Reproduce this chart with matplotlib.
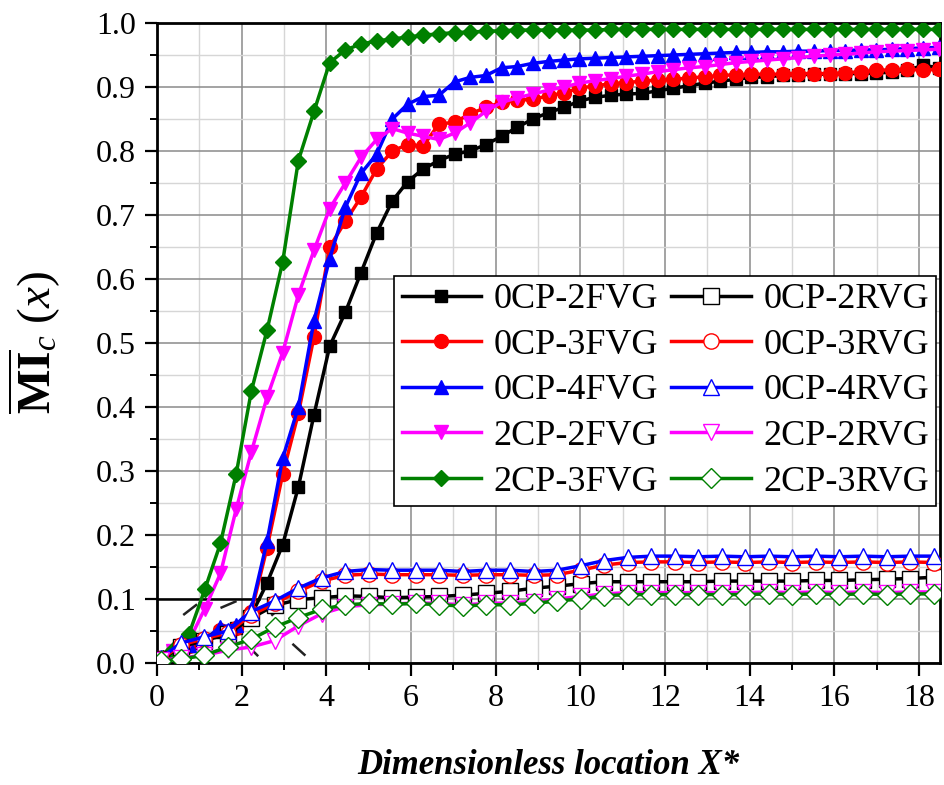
import matplotlib
matplotlib.use("Agg")
import matplotlib.pyplot as plt
from matplotlib.ticker import MultipleLocator

# ---- data ----
xF = [0.15, 0.39, 0.76, 1.13, 1.50, 1.87, 2.23, 2.60, 2.97, 3.34,
      3.71, 4.08, 4.45, 4.82, 5.19, 5.56, 5.92, 6.29, 6.66, 7.03,
      7.40, 7.77, 8.14, 8.51, 8.88, 9.25, 9.61, 9.98, 10.35, 10.72,
      11.09, 11.46, 11.83, 12.20, 12.57, 12.94, 13.30, 13.67, 14.04, 14.41,
      14.78, 15.15, 15.52, 15.89, 16.26, 16.63, 16.99, 17.36, 17.73, 18.10,
      18.47]

cp0_2fvg = [0.008, 0.018, 0.026, 0.034, 0.048, 0.055, 0.075, 0.125, 0.185, 0.275,
            0.388, 0.495, 0.548, 0.610, 0.672, 0.722, 0.752, 0.772, 0.785, 0.795,
            0.800, 0.810, 0.823, 0.837, 0.850, 0.860, 0.868, 0.878, 0.884, 0.887,
            0.889, 0.890, 0.894, 0.898, 0.902, 0.906, 0.909, 0.912, 0.915, 0.916,
            0.918, 0.919, 0.920, 0.920, 0.921, 0.921, 0.922, 0.923, 0.926, 0.934,
            0.930]
cp0_3fvg = [0.008, 0.018, 0.026, 0.034, 0.052, 0.055, 0.080, 0.180, 0.295, 0.390,
            0.510, 0.650, 0.690, 0.728, 0.772, 0.800, 0.810, 0.808, 0.842, 0.845,
            0.858, 0.868, 0.876, 0.879, 0.881, 0.886, 0.891, 0.898, 0.902, 0.905,
            0.907, 0.909, 0.911, 0.912, 0.914, 0.916, 0.918, 0.919, 0.920, 0.920,
            0.920, 0.921, 0.921, 0.921, 0.922, 0.924, 0.926, 0.927, 0.928, 0.926,
            0.928]
cp0_4fvg = [0.008, 0.020, 0.028, 0.036, 0.057, 0.059, 0.085, 0.190, 0.320, 0.400,
            0.535, 0.632, 0.712, 0.765, 0.795, 0.850, 0.873, 0.885, 0.887, 0.908,
            0.915, 0.918, 0.930, 0.932, 0.937, 0.940, 0.942, 0.944, 0.945, 0.946,
            0.947, 0.948, 0.949, 0.950, 0.951, 0.952, 0.953, 0.954, 0.954, 0.955,
            0.955, 0.956, 0.956, 0.957, 0.957, 0.958, 0.958, 0.959, 0.960, 0.961,
            0.962]
cp2_2fvg = [0.008, 0.018, 0.035, 0.085, 0.140, 0.240, 0.330, 0.415, 0.485, 0.575,
            0.645, 0.710, 0.750, 0.790, 0.818, 0.835, 0.828, 0.823, 0.818, 0.828,
            0.844, 0.862, 0.876, 0.883, 0.889, 0.895, 0.900, 0.906, 0.910, 0.913,
            0.917, 0.920, 0.924, 0.927, 0.930, 0.932, 0.935, 0.938, 0.940, 0.942,
            0.944, 0.946, 0.948, 0.950, 0.951, 0.953, 0.955, 0.956, 0.957, 0.958,
            0.959]
cp2_3fvg = [0.008, 0.020, 0.046, 0.115, 0.187, 0.295, 0.425, 0.520, 0.627, 0.785,
            0.862, 0.938, 0.958, 0.967, 0.972, 0.975, 0.978, 0.981, 0.983, 0.985,
            0.986, 0.987, 0.988, 0.989, 0.989, 0.989, 0.989, 0.989, 0.989, 0.990,
            0.990, 0.990, 0.990, 0.990, 0.990, 0.990, 0.990, 0.990, 0.990, 0.990,
            0.990, 0.990, 0.990, 0.990, 0.990, 0.990, 0.990, 0.990, 0.990, 0.990,
            0.990]

xR = [0.10, 0.56, 1.11, 1.67, 2.22, 2.78, 3.34, 3.89, 4.45, 5.00,
      5.56, 6.12, 6.67, 7.23, 7.78, 8.34, 8.90, 9.45, 10.01, 10.56,
      11.12, 11.68, 12.23, 12.79, 13.34, 13.90, 14.46, 15.01, 15.57, 16.12,
      16.68, 17.24, 17.79, 18.35]

cp0_2rvg = [0.006, 0.025, 0.035, 0.045, 0.070, 0.090, 0.099, 0.102, 0.105, 0.104,
            0.102, 0.103, 0.104, 0.106, 0.109, 0.112, 0.117, 0.120, 0.124, 0.127,
            0.127, 0.127, 0.127, 0.127, 0.128, 0.128, 0.128, 0.128, 0.129, 0.129,
            0.130, 0.131, 0.132, 0.134]
cp0_3rvg = [0.006, 0.028, 0.038, 0.047, 0.075, 0.093, 0.112, 0.128, 0.137, 0.139,
            0.138, 0.138, 0.138, 0.137, 0.138, 0.138, 0.137, 0.138, 0.145, 0.153,
            0.157, 0.158, 0.158, 0.157, 0.158, 0.157, 0.158, 0.157, 0.158, 0.157,
            0.158, 0.157, 0.158, 0.157]
cp0_4rvg = [0.008, 0.031, 0.041, 0.050, 0.080, 0.097, 0.117, 0.133, 0.143, 0.146,
            0.145, 0.145, 0.145, 0.143, 0.145, 0.145, 0.143, 0.145, 0.152, 0.160,
            0.165, 0.167, 0.167, 0.166, 0.167, 0.166, 0.167, 0.166, 0.167, 0.166,
            0.167, 0.166, 0.167, 0.167]
cp2_2rvg = [0.004, 0.008, 0.012, 0.020, 0.025, 0.035, 0.058, 0.077, 0.088, 0.091,
            0.092, 0.094, 0.093, 0.091, 0.093, 0.094, 0.096, 0.100, 0.104, 0.108,
            0.110, 0.110, 0.110, 0.110, 0.110, 0.110, 0.111, 0.110, 0.111, 0.110,
            0.111, 0.110, 0.111, 0.111]
cp2_3rvg = [0.003, 0.006, 0.012, 0.025, 0.037, 0.056, 0.071, 0.084, 0.091, 0.093,
            0.092, 0.093, 0.091, 0.089, 0.091, 0.091, 0.093, 0.097, 0.100, 0.105,
            0.107, 0.107, 0.107, 0.107, 0.107, 0.107, 0.108, 0.107, 0.108, 0.107,
            0.108, 0.107, 0.108, 0.108]

fvgSeries = [("0CP-2FVG", cp0_2fvg, "black", "s", 9),
             ("0CP-3FVG", cp0_3fvg, "red", "o", 10),
             ("0CP-4FVG", cp0_4fvg, "blue", "^", 10),
             ("2CP-2FVG", cp2_2fvg, "magenta", "v", 10),
             ("2CP-3FVG", cp2_3fvg, "green", "D", 8)]
rvgSeries = [("0CP-2RVG", cp0_2rvg, "black", "s", 11),
             ("0CP-3RVG", cp0_3rvg, "red", "o", 11),
             ("0CP-4RVG", cp0_4rvg, "blue", "^", 12),
             ("2CP-2RVG", cp2_2rvg, "magenta", "v", 12),
             ("2CP-3RVG", cp2_3rvg, "green", "D", 10)]

# zoom-box guide lines in the lower left corner (data coords)
guideSolid = [([0.0, 2.4], [0.1, 0.1])]
guideDashed = [([0.62, 1.05], [0.075, 0.097]),
               ([1.5, 2.1], [0.086, 0.103]),
               ([2.7, 2.98], [0.074, 0.09]),
               ([2.1, 2.55], [0.030, 0.0]),
               ([3.2, 3.7], [0.030, 0.0])]

plt.rcParams["font.family"] = ["Liberation Serif", "DejaVu Serif"]
plt.rcParams["mathtext.fontset"] = "custom"
plt.rcParams["mathtext.rm"] = "Liberation Serif"
plt.rcParams["mathtext.it"] = "Liberation Serif:italic"
plt.rcParams["mathtext.bf"] = "Liberation Serif:bold"

fig = plt.figure(figsize=(9.44, 7.85), dpi=100)
ax = fig.add_axes([0.1663, 0.1554, 0.8295, 0.8153])

handles = []
for name, vals, col, mk, ms in fvgSeries:
    h, = ax.plot(xF, vals, color=col, marker=mk, ms=ms, lw=2.5, label=name, zorder=3)
    handles.append(h)
for name, vals, col, mk, ms in rvgSeries:
    h, = ax.plot(xR, vals, color=col, marker=mk, ms=ms, lw=2.5, mfc="white",
                 mec=col, mew=1.0, label=name, zorder=3)
    handles.append(h)

# guide lines sit behind the curves
for xs, ys in guideSolid:
    ax.plot(xs, ys, color="black", lw=1.8, zorder=2)
for xs, ys in guideDashed:
    ax.plot(xs, ys, color="#222222", lw=1.8, dashes=(7, 5), zorder=2)

ax.set_xlim(0, 18.5)
ax.set_ylim(0, 1.0)
ax.xaxis.set_major_locator(MultipleLocator(2))
ax.xaxis.set_minor_locator(MultipleLocator(1))
ax.yaxis.set_major_locator(MultipleLocator(0.1))
ax.yaxis.set_minor_locator(MultipleLocator(0.05))
ax.yaxis.set_major_formatter(matplotlib.ticker.FormatStrFormatter("%.1f"))

ax.set_axisbelow(True)
ax.grid(which="major", color="#8a8a8a", lw=1.1)
ax.grid(which="minor", color="#d6d6d6", lw=1.0)
for sp in ax.spines.values():
    sp.set_linewidth(2.0)
ax.tick_params(which="major", direction="out", length=9, width=1.6, labelsize=23, pad=6)
ax.tick_params(which="minor", direction="out", length=5, width=1.4)

ax.set_xlabel("Dimensionless location X*", fontsize=25, fontweight="bold", style="italic")
ax.xaxis.set_label_coords(0.5, -0.135)
ax.set_ylabel(r"$\overline{\mathbf{MI}}_{c}\ (x)$", fontsize=34)
ax.yaxis.set_label_coords(-0.12, 0.5)

leg = ax.legend(handles=handles, ncol=2, loc="upper right", bbox_to_anchor=(0.995, 0.605),
                borderaxespad=0, fontsize=26, frameon=True, fancybox=False,
                edgecolor="black", framealpha=1, handlelength=2.2, handletextpad=0.35,
                columnspacing=0.35, labelspacing=0.34, borderpad=0.2)
leg.get_frame().set_linewidth(1.2)

fig.savefig("out.png", dpi=100)
